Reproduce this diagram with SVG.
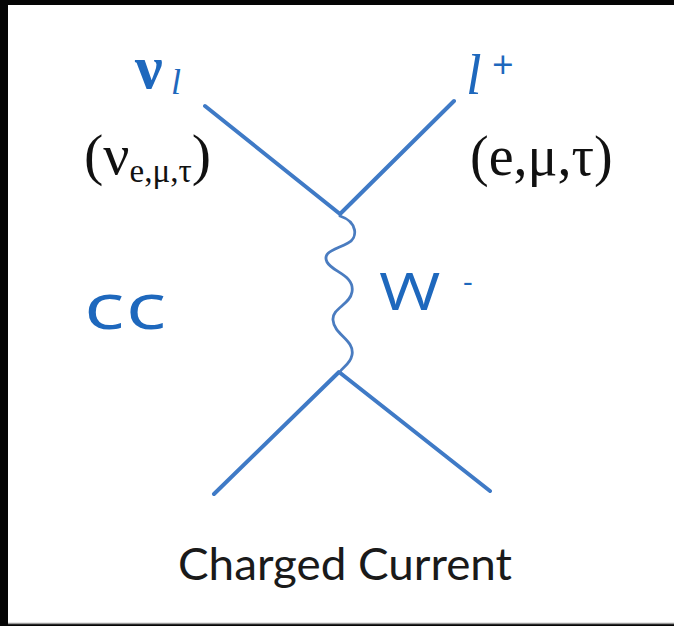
<svg xmlns="http://www.w3.org/2000/svg" width="674" height="626" viewBox="0 0 674 626">
<style>
.line{fill:none;stroke:#3f7ac6;stroke-width:4;stroke-linecap:round;stroke-linejoin:round}
.wave{fill:none;stroke:#4a7cc0;stroke-width:2.8;stroke-linecap:round}
.hand{fill:#1e68bd;font-family:"Open Sans","Liberation Sans",Arial,sans-serif;font-weight:400}
.hser{fill:#1e68bd;font-family:"Liberation Serif","Times New Roman",serif}
.ser{fill:#111;font-family:"Liberation Serif","Times New Roman",serif}
.cap{fill:#1a1a1a;font-family:"Lato","Liberation Sans",sans-serif}
</style>
<rect x="0" y="0" width="674" height="626" fill="#050505"/>
<rect x="8" y="5" width="666" height="618" fill="#ffffff"/>
<line x1="8" y1="623.5" x2="674" y2="623.5" stroke="#9a9a9a" stroke-width="1.5"/>
<g id="connectors">
<path class="line" d="M205,106 L340,214 L454,101"/>
<path class="line" d="M214,494 L339,372 L490,491"/>
<path class="wave" d="M340,216 C358,222 358,238 348,243 C335,250 322,252 327,262 C332,272 355,275 352,292 C350,305 332,308 333,320 C334,335 355,340 352,355 C350,365 342,367 340,372"/>
</g>
<g id="nu-l">
<text class="hser" x="135" y="88" font-weight="bold" font-size="62">ν</text>
<text class="hser" x="171" y="94" font-size="36" font-style="italic">l</text>
</g>
<g id="nu-flavours">
<text class="ser" x="84" y="174" font-size="58">(ν<tspan font-size="33" dy="8">e,μ,τ</tspan><tspan dy="-8">)</tspan></text>
</g>
<g id="l-plus">
<text class="hser" x="466" y="94" font-size="56" font-style="italic">l</text>
<text class="hand" x="492" y="78" font-size="38">+</text>
</g>
<g id="lepton-flavours">
<text class="ser" x="470" y="175" font-size="56">(e,μ,τ)</text>
</g>
<g id="cc">
<text class="hand" transform="translate(84,329) scale(1.32,1)" font-size="64" letter-spacing="1">cc</text>
</g>
<g id="w-minus">
<text class="hand" transform="translate(379,310) scale(1.28,1)" font-size="52">W</text>
<text class="hand" x="463" y="292" font-size="30">-</text>
</g>
<g id="caption">
<text class="cap" x="178" y="580" font-size="44" textLength="334" lengthAdjust="spacingAndGlyphs">Charged Current</text>
</g>
</svg>
